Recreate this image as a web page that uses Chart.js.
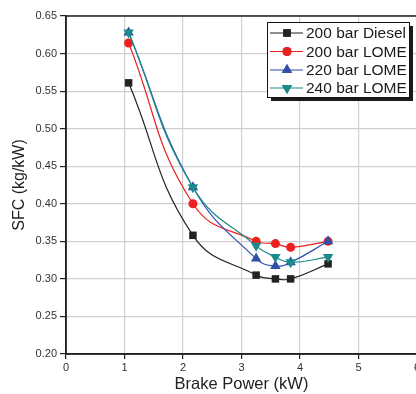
<!DOCTYPE html>
<html><head><meta charset="utf-8">
<script src="https://cdn.jsdelivr.net/npm/chart.js@4"></script>
<style>
html,body{margin:0;padding:0;background:#fff;overflow:hidden;}
#wrap{width:416px;height:394px;overflow:hidden;position:relative;}
canvas{display:block;}
</style></head>
<body><div id="wrap"><canvas id="c" width="440" height="394"></canvas></div>
<script>
const brakePower = [1.07, 2.17, 3.25, 3.58, 3.84, 4.48];
const diesel200 = [0.561, 0.358, 0.305, 0.300, 0.300, 0.320];
const lome200   = [0.614, 0.400, 0.350, 0.347, 0.342, 0.350];
const lome220   = [0.628, 0.422, 0.327, 0.317, 0.322, 0.350];
const lome240   = [0.628, 0.422, 0.344, 0.329, 0.322, 0.329];
const seriesNames = ['200 bar Diesel', '200 bar LOME', '220 bar LOME', '240 bar LOME'];
const xTicks = [0,1,2,3,4,5,6];
const yTicks = [0.20,0.25,0.30,0.35,0.40,0.45,0.50,0.55,0.60,0.65];

const toPts = arr => arr.map((v,i)=>({x:brakePower[i], y:v}));
const styles = [
  {color:'#222222', point:'rect', r:5.3, rot:0, order:3},
  {color:'#ee2020', point:'circle', r:4.5, rot:0, order:2},
  {color:'#2f4fa8', point:'triangle', r:6, rot:0, order:1},
  {color:'#1a8a8a', point:'triangle', r:6, rot:180, order:0}
];
const seriesData = [diesel200, lome200, lome220, lome240];

const datasets = seriesData.map((d,i)=>({
  label: seriesNames[i],
  data: toPts(d),
  borderColor: styles[i].color,
  backgroundColor: styles[i].color,
  borderWidth: 1.2,
  pointStyle: styles[i].point,
  pointRadius: styles[i].r,
  pointRotation: styles[i].rot,
  pointBorderWidth: 0,
  pointBackgroundColor: styles[i].color,
  tension: 0.45,
  order: styles[i].order,
  fill: false
}));

const legendPlugin = {
  id:'customLegend',
  afterDraw(chart){
    const ctx = chart.ctx;
    const x0 = 267, y0 = 22, w = 142, h = 75;
    ctx.save();
    ctx.fillStyle = '#1a1a1a';
    ctx.fillRect(x0+4, y0+4, w, h);
    ctx.fillStyle = '#fff';
    ctx.fillRect(x0, y0, w, h);
    ctx.strokeStyle = '#111';
    ctx.lineWidth = 1;
    ctx.strokeRect(x0+0.5, y0+0.5, w, h);
    ctx.font = '15.5px "Liberation Sans", Arial, sans-serif';
    ctx.textBaseline = 'middle';
    const rows = [33, 51.5, 70, 88];
    chart.data.datasets.forEach((ds,i)=>{
      const y = rows[i];
      ctx.strokeStyle = ds.borderColor;
      ctx.lineWidth = 1.2;
      ctx.beginPath(); ctx.moveTo(270, y); ctx.lineTo(303, y); ctx.stroke();
      ctx.fillStyle = ds.borderColor;
      Chart.helpers.drawPoint(ctx, {pointStyle: ds.pointStyle, radius: ds.pointRadius, rotation: ds.pointRotation, borderWidth:0}, 287, y);
      ctx.fill();
      ctx.fillStyle = '#1a1a1a';
      ctx.fillText(ds.label, 306, y+1);
    });
    ctx.restore();
  }
};

const frame = {
  id:'frame',
  beforeDatasetsDraw(chart){
    const a = chart.chartArea, ctx = chart.ctx;
    ctx.save();
    ctx.strokeStyle = '#222';
    ctx.lineWidth = 1.5;
    ctx.strokeRect(a.left, a.top, a.right-a.left, a.bottom-a.top);
    ctx.restore();
  }
};

const FONT = '"Liberation Sans", Arial, sans-serif';
new Chart(document.getElementById('c'), {
  type:'scatter',
  data:{datasets},
  options:{
    responsive:false,
    animation:false,
    showLine:true,
    layout:{padding:{top:16,right:23,left:10,bottom:0}},
    plugins:{legend:{display:false}, tooltip:{enabled:false}},
    scales:{
      x:{
        type:'linear', min:0, max:6,
        afterBuildTicks(s){ s.ticks = xTicks.map(v=>({value:v})); },
        afterFit(s){ s.height = 40; },
        grid:{color:'#d0d0d0', lineWidth:1.2, tickColor:'#222', tickLength:5, drawTicks:true},
        border:{color:'#222', width:1.5},
        ticks:{color:'#333', font:{family:FONT, size:11}, padding:2},
        title:{display:true, text:'Brake Power (kW)', color:'#222', font:{family:FONT, size:16.5}, padding:{top:0,bottom:0}}
      },
      y:{
        type:'linear', min:0.2, max:0.65,
        afterBuildTicks(s){ s.ticks = yTicks.map(v=>({value:v})); },
        afterFit(s){ s.width = 56; },
        grid:{color:'#d0d0d0', lineWidth:1.2, tickColor:'#222', tickLength:6},
        border:{color:'#222', width:1.5},
        ticks:{color:'#333', font:{family:FONT, size:11}, padding:3, callback:v=>Number(v).toFixed(2)},
        title:{display:true, text:'SFC (kg/kW)', color:'#222', font:{family:FONT, size:16}, padding:{top:0,bottom:4}}
      }
    }
  },
  plugins:[frame, legendPlugin]
});
</script></body></html>
